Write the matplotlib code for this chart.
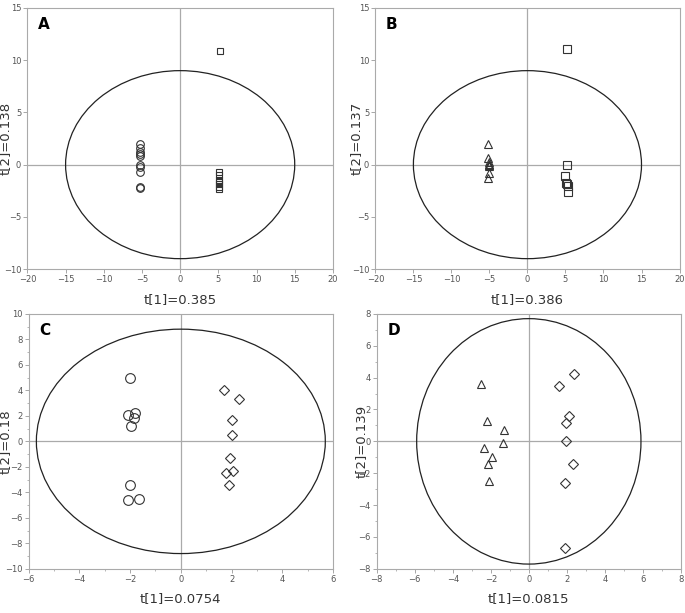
import matplotlib
matplotlib.use("Agg")
import matplotlib.pyplot as plt
from matplotlib.patches import Ellipse
from matplotlib.ticker import MultipleLocator

# panel A: circles vs squares
a_circ_x = [-5.2, -5.2, -5.2, -5.2, -5.2, -5.2, -5.2, -5.2, -5.2, -5.2]
a_circ_y = [2.0, 1.6, 1.2, 1.0, 0.8, 0.0, -0.2, -0.7, -2.1, -2.2]
a_sq_x = [5.2, 5.1, 5.1, 5.1, 5.1, 5.1, 5.1, 5.1]
a_sq_y = [10.9, -0.7, -1.0, -1.5, -1.7, -1.9, -2.1, -2.3]

# panel B: triangles vs squares
b_tri_x = [-5.2, -5.2, -5.1, -5.1, -5.1, -5.1, -5.1, -5.2]
b_tri_y = [2.0, 0.6, 0.3, 0.1, 0.0, -0.1, -0.8, -1.3]
b_sq_x = [5.2, 5.2, 5.0, 5.1, 5.2, 5.3, 5.3]
b_sq_y = [11.1, 0.0, -1.1, -1.8, -1.9, -2.0, -2.6]

# panel C: circles vs diamonds
c_circ_x = [-2.0, -2.1, -1.8, -1.85, -1.95, -2.0, -2.1, -1.65]
c_circ_y = [5.0, 2.1, 2.2, 1.8, 1.2, -3.4, -4.6, -4.5]
c_dia_x = [1.7, 2.3, 2.0, 2.0, 1.95, 2.05, 1.8, 1.9]
c_dia_y = [4.0, 3.3, 1.7, 0.5, -1.3, -2.3, -2.5, -3.4]

# panel D: triangles vs diamonds
d_tri_x = [-2.5, -2.2, -1.3, -1.35, -2.35, -1.95, -2.15, -2.1]
d_tri_y = [3.6, 1.3, 0.7, -0.1, -0.4, -1.0, -1.4, -2.5]
d_dia_x = [2.4, 1.6, 2.1, 1.95, 1.95, 2.3, 1.9, 1.9]
d_dia_y = [4.2, 3.5, 1.6, 1.15, 0.05, -1.4, -2.6, -6.7]

fig = plt.figure(figsize=(6.85, 6.13), dpi=100)

panels = [
    dict(pos=[0.040, 0.561, 0.446, 0.426], letter="A", xlim=(-20, 20), ylim=(-10, 15),
         major=5, minor=None, ell=(15, 9), xlab="t[1]=0.385", ylab="t[2]=0.138", ylx=-0.050,
         s1=(a_circ_x, a_circ_y, "o", 5.5), s2=(a_sq_x, a_sq_y, "s", 5)),
    dict(pos=[0.548, 0.561, 0.444, 0.426], letter="B", xlim=(-20, 20), ylim=(-10, 15),
         major=5, minor=None, ell=(15, 9), xlab="t[1]=0.386", ylab="t[2]=0.137", ylx=-0.043,
         s1=(b_tri_x, b_tri_y, "^", 5.5), s2=(b_sq_x, b_sq_y, "s", 5.5)),
    dict(pos=[0.042, 0.072, 0.444, 0.416], letter="C", xlim=(-6, 6), ylim=(-10, 10),
         major=2, minor=1, ell=(5.7, 8.8), xlab="t[1]=0.0754", ylab="t[2]=0.18", ylx=-0.055,
         s1=(c_circ_x, c_circ_y, "o", 7), s2=(c_dia_x, c_dia_y, "D", 5.5)),
    dict(pos=[0.550, 0.072, 0.444, 0.416], letter="D", xlim=(-8, 8), ylim=(-8, 8),
         major=2, minor=1, ell=(5.9, 7.7), xlab="t[1]=0.0815", ylab="t[2]=0.139", ylx=-0.030,
         s1=(d_tri_x, d_tri_y, "^", 6), s2=(d_dia_x, d_dia_y, "D", 5.5)),
]

for p in panels:
    ax = fig.add_axes(p["pos"])
    ax.set_xlim(*p["xlim"])
    ax.set_ylim(*p["ylim"])
    ax.axhline(0, color="#aaaaaa", lw=0.9, zorder=1)
    ax.axvline(0, color="#aaaaaa", lw=0.9, zorder=1)
    rx, ry = p["ell"]
    ax.add_patch(Ellipse((0, 0), 2 * rx, 2 * ry, fill=False, ec="#222222", lw=0.9, zorder=2))
    for xs, ys, m, ms in (p["s1"], p["s2"]):
        ax.plot(xs, ys, ls="none", marker=m, ms=ms, mfc="none", mec="#333333", mew=0.8, zorder=3)
    ax.xaxis.set_major_locator(MultipleLocator(p["major"]))
    ax.yaxis.set_major_locator(MultipleLocator(p["major"]))
    if p["minor"]:
        ax.xaxis.set_minor_locator(MultipleLocator(p["minor"]))
        ax.yaxis.set_minor_locator(MultipleLocator(p["minor"]))
    ax.tick_params(which="major", direction="out", length=3, width=0.6, color="#999999",
                   labelsize=6, labelcolor="#555555", pad=1.5)
    ax.tick_params(which="minor", direction="out", length=1.5, width=0.5, color="#999999")
    for s in ax.spines.values():
        s.set_color("#aaaaaa")
        s.set_linewidth(0.8)
    ax.set_xlabel(p["xlab"], fontsize=9.5, color="#333333", labelpad=6)
    ax.set_ylabel(p["ylab"], fontsize=9.5, color="#333333")
    ax.yaxis.set_label_coords(p["ylx"], 0.5)
    ax.text(0.035, 0.965, p["letter"], transform=ax.transAxes, fontsize=11,
            fontweight="bold", va="top", ha="left")

fig.savefig("out.png", dpi=100)
